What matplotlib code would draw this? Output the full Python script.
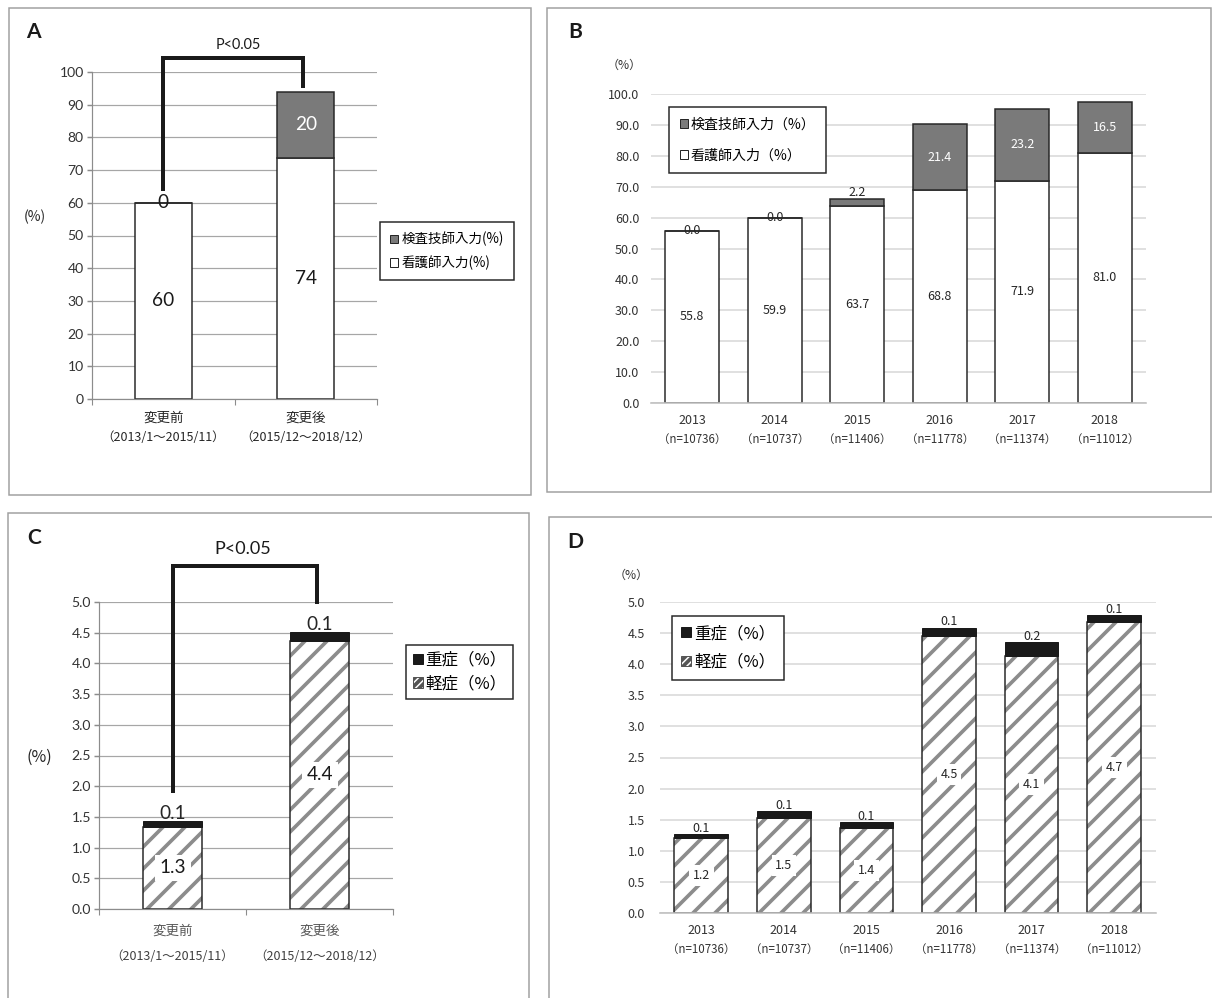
import matplotlib
matplotlib.use('Agg')
import matplotlib.pyplot as plt
import matplotlib.transforms as mtransforms
from matplotlib.patches import Rectangle, Patch
import numpy as np

W, H, DPI = 1212, 998, 132


def px(p):
    # pixel size -> points at this dpi
    return p * 72 / DPI


def fx(x):
    return x / W


def fy(y):
    return 1 - y / H


plt.rcParams['font.family'] = ['Noto Sans CJK JP', 'DejaVu Sans']
plt.rcParams['hatch.linewidth'] = 2.0
plt.rcParams['axes.axisbelow'] = True
LATIN = ['Lato', 'Noto Sans CJK JP', 'DejaVu Sans']

# ---- data ----
a_cats = ['変更前', '変更後']
a_periods = ['（2013/1～2015/11）', '（2015/12～2018/12）']
a_nurse = [60, 73.7]
a_tech = [0, 20.3]

b_years = ['2013', '2014', '2015', '2016', '2017', '2018']
b_n = ['（n=10736）', '（n=10737）', '（n=11406）', '（n=11778）', '（n=11374）', '（n=11012）']
b_nurse = [55.8, 59.9, 63.7, 68.8, 71.9, 81.0]
b_tech = [0.0, 0.0, 2.2, 21.4, 23.2, 16.5]

c_cats = ['変更前', '変更後']
c_periods = ['（2013/1～2015/11）', '（2015/12～2018/12）']
c_mild = [1.34, 4.37]
c_severe = [0.09, 0.14]

d_years = ['2013', '2014', '2015', '2016', '2017', '2018']
d_n = ['（n=10736）', '（n=10737）', '（n=11406）', '（n=11778）', '（n=11374）', '（n=11012）']
d_mild = [1.20, 1.53, 1.36, 4.46, 4.13, 4.68]
d_severe = [0.07, 0.11, 0.10, 0.13, 0.23, 0.11]

GRAY = '#7a7a7a'
EDGE = '#262626'
HATCH = '#8c8c8c'
SMALL = 12.5   # text size in panels B and D (px)

fig = plt.figure(figsize=(W / DPI, H / DPI), dpi=DPI)


def axes_px(l, t, r, b):
    return fig.add_axes([l / W, 1 - b / H, (r - l) / W, (b - t) / H])


def frame(l, t, r, b):
    fig.add_artist(Rectangle((l / W, 1 - b / H), (r - l) / W, (b - t) / H,
                             transform=fig.transFigure, fill=False,
                             ec='#a0a0a0', lw=px(1.5)))


def office_axes(ax, ymax, step, fmt, lab_px):
    # style of panels A and C
    ax.set_xlim(-0.5, 1.5)
    ax.set_ylim(0, ymax)
    ax.set_yticks(np.arange(0, ymax + step / 2, step))
    ax.set_yticklabels([fmt % v for v in np.arange(0, ymax + step / 2, step)])
    ax.yaxis.grid(True, color='#a6a6a6', lw=px(1.2))
    for s in ['top', 'right']:
        ax.spines[s].set_visible(False)
    for s in ['left', 'bottom']:
        ax.spines[s].set_color('#8c8c8c')
        ax.spines[s].set_linewidth(px(1.2))
    ax.tick_params(axis='y', length=px(5), color='#8c8c8c', labelsize=px(lab_px),
                   labelcolor='#333333', pad=px(3))
    for t in ax.get_yticklabels():
        t.set_family(LATIN)
    ax.set_xticks([-0.5, 0.5, 1.5], minor=True)
    ax.tick_params(axis='x', which='minor', length=px(6), color='#8c8c8c')


def year_axes(ax, ymax, step, pad):
    # style of panels B and D
    ax.set_xlim(-0.5, 5.5)
    ax.set_ylim(0, ymax)
    ax.set_yticks(np.arange(0, ymax + step / 2, step))
    ax.set_yticklabels(['%.1f' % v for v in np.arange(0, ymax + step / 2, step)])
    ax.yaxis.grid(True, color='#d9d9d9', lw=px(1.6))
    for s in ['top', 'right', 'left']:
        ax.spines[s].set_visible(False)
    ax.spines['bottom'].set_color('#bfbfbf')
    ax.spines['bottom'].set_linewidth(px(1.6))
    ax.tick_params(axis='y', length=0, labelsize=px(SMALL), labelcolor='#333333', pad=px(pad))


# ================= A =================
frame(9, 8, 531, 495)
ax = axes_px(92, 72, 377, 399)
x = np.arange(len(a_cats))
ax.bar(x, a_nurse, 0.4, color='white', edgecolor=EDGE, lw=px(1.5), zorder=2)
ax.bar(x, a_tech, 0.4, bottom=a_nurse, color=GRAY, edgecolor=EDGE, lw=px(1.5), zorder=2)
office_axes(ax, 100, 10, '%d', 14)
ax.set_xticks(x)
ax.set_xticklabels(a_cats)
ax.tick_params(axis='x', which='major', length=0, pad=px(12), labelsize=px(13.5), labelcolor='#262626')
tr = mtransforms.blended_transform_factory(ax.transData, fig.transFigure)
for i in x:
    ax.text(i, fy(437.5), a_periods[i], transform=tr, ha='center', va='center',
            fontsize=px(12.5), color='#262626')
    ax.text(i, a_nurse[i] / 2, '%.0f' % a_nurse[i], ha='center', va='center',
            fontsize=px(19), family=LATIN, color='#1a1a1a', zorder=3)
    ax.text(i, a_nurse[i] + a_tech[i] / 2, '%.0f' % a_tech[i], ha='center', va='center',
            fontsize=px(19), family=LATIN,
            color='white' if a_tech[i] > 5 else '#1a1a1a', zorder=3)
ax.plot([0, 0, 0.98, 0.98], [63.6, 104.2, 104.2, 95], color='#1a1a1a', lw=px(4),
        clip_on=False, solid_joinstyle='miter', solid_capstyle='butt')
fig.text(fx(238), fy(45), 'P<0.05', ha='center', va='center', fontsize=px(14.5),
         family=LATIN, color='#1a1a1a')
fig.text(fx(35), fy(217), '(%)', ha='center', va='center', fontsize=px(14), color='#262626')
fig.text(fx(26), fy(32), 'A', ha='left', va='center', fontsize=px(21), fontweight='bold',
         family=LATIN, color='#1a1a1a')
leg = ax.legend([Patch(fc=GRAY, ec=EDGE, lw=px(1)), Patch(fc='white', ec=EDGE, lw=px(1))],
                ['検査技師入力(%)', '看護師入力(%)'], loc='upper left',
                bbox_to_anchor=(fx(380), fy(222)), bbox_transform=fig.transFigure,
                fontsize=px(13.5), frameon=True, fancybox=False, edgecolor=EDGE, framealpha=1,
                handlelength=0.6, handleheight=0.6, handletextpad=0.25, borderpad=0.75,
                labelspacing=0.65, borderaxespad=0)
leg.get_frame().set_linewidth(px(1.5))

# ================= B =================
frame(547, 8, 1211, 492)
ax = axes_px(651, 94, 1146, 403)
x = np.arange(len(b_years))
nb = np.array(b_nurse)
tb = np.array(b_tech)
ax.bar(x, nb, 0.65, color='white', edgecolor=EDGE, lw=px(1.5), zorder=2)
ax.bar(x, tb, 0.65, bottom=nb, color=GRAY, edgecolor=EDGE, lw=px(1.5), zorder=2)
year_axes(ax, 100, 10, 11.5)
ax.set_xticks(x)
ax.set_xticklabels(b_years)
ax.tick_params(axis='x', length=0, pad=px(11), labelsize=px(SMALL), labelcolor='#333333')
tr = mtransforms.blended_transform_factory(ax.transData, fig.transFigure)
for i in x:
    ax.text(i, fy(439.5), b_n[i], transform=tr, ha='center', va='center',
            fontsize=px(11.5), color='#333333')
    ax.text(i, nb[i] / 2, '%.1f' % nb[i], ha='center', va='center', fontsize=px(SMALL),
            color='#262626', zorder=3)
    if tb[i] >= 5:
        ax.text(i, nb[i] + tb[i] / 2, '%.1f' % tb[i], ha='center', va='center',
                fontsize=px(SMALL), color='white', zorder=3)
    elif tb[i] > 0:
        ax.text(i, nb[i] + tb[i] + 0.2, '%.1f' % tb[i], ha='center', va='bottom',
                fontsize=px(SMALL), color='#262626', zorder=3)
    else:
        ax.text(i, nb[i], '%.1f' % tb[i], ha='center', va='center',
                fontsize=px(SMALL), color='#262626', zorder=3)
fig.text(fx(624), fy(65), '（%）', ha='center', va='center', fontsize=px(12), color='#333333')
fig.text(fx(568), fy(31.5), 'B', ha='left', va='center', fontsize=px(21), fontweight='bold',
         family=LATIN, color='#1a1a1a')
leg = ax.legend([Patch(fc=GRAY, ec=EDGE, lw=px(1)), Patch(fc='white', ec=EDGE, lw=px(1))],
                ['検査技師入力（%）', '看護師入力（%）'], loc='upper left',
                bbox_to_anchor=(fx(669), fy(107)), bbox_transform=fig.transFigure,
                fontsize=px(14), frameon=True, fancybox=False, edgecolor=EDGE, framealpha=1,
                handlelength=0.6, handleheight=0.6, handletextpad=0.2, borderpad=0.75,
                labelspacing=1.2, borderaxespad=0)
leg.get_frame().set_linewidth(px(1.5))

# ================= C =================
frame(8, 513, 529, 1010)
ax = axes_px(99, 602, 393, 909)
x = np.arange(len(c_cats))
cm = np.array(c_mild)
cs = np.array(c_severe)
ax.bar(x, cm, 0.4, color='white', edgecolor=HATCH, hatch='//', lw=0, zorder=2)
ax.bar(x, cm, 0.4, fill=False, edgecolor=EDGE, lw=px(1.5), zorder=2.1)
ax.bar(x, cs, 0.4, bottom=cm, color='#1a1a1a', edgecolor='#1a1a1a', lw=px(1), zorder=2.2)
office_axes(ax, 5, 0.5, '%.1f', 14)
ax.set_xticks(x)
ax.set_xticklabels(c_cats)
ax.tick_params(axis='x', which='major', length=0, pad=px(15), labelsize=px(13.5), labelcolor='#595959')
tr = mtransforms.blended_transform_factory(ax.transData, fig.transFigure)
for i in x:
    ax.text(i, fy(956), c_periods[i], transform=tr, ha='center', va='center',
            fontsize=px(12.5), color='#404040')
    ax.text(i, cm[i] / 2, '%.1f' % cm[i], ha='center', va='center', fontsize=px(19),
            family=LATIN, color='#1a1a1a', zorder=3,
            bbox=dict(boxstyle='square,pad=0.25', fc='white', ec='none'))
    ax.text(i, cm[i] + cs[i] + 0.13, '%.1f' % cs[i], ha='center', va='center',
            fontsize=px(19), family=LATIN, color='#262626', zorder=3)
ax.plot([0, 0, 0.98, 0.98], [1.89, 5.59, 5.59, 4.97], color='#1a1a1a', lw=px(4),
        clip_on=False, solid_joinstyle='miter', solid_capstyle='butt')
fig.text(fx(243), fy(549), 'P<0.05', ha='center', va='center', fontsize=px(18),
         family=LATIN, color='#1a1a1a')
fig.text(fx(39), fy(757), '(%)', ha='center', va='center', fontsize=px(16), color='#262626')
fig.text(fx(27), fy(538), 'C', ha='left', va='center', fontsize=px(21), fontweight='bold',
         family=LATIN, color='#1a1a1a')
leg = ax.legend([Patch(fc='#1a1a1a', ec='#1a1a1a', lw=px(1)),
                 Patch(fc='white', ec='#555555', hatch='//////', lw=px(1))],
                ['重症（%）', '軽症（%）'], loc='upper left',
                bbox_to_anchor=(fx(406), fy(645)), bbox_transform=fig.transFigure,
                fontsize=px(16.5), frameon=True, fancybox=False, edgecolor=EDGE, framealpha=1,
                handlelength=0.6, handleheight=0.6, handletextpad=0.15, borderpad=0.4,
                labelspacing=0.4, borderaxespad=0)
leg.get_frame().set_linewidth(px(1.5))

# ================= D =================
frame(549, 517, 1230, 1010)
ax = axes_px(660, 602, 1155.5, 913)
x = np.arange(len(d_years))
dm = np.array(d_mild)
ds = np.array(d_severe)
ax.bar(x, dm, 0.65, color='white', edgecolor=HATCH, hatch='//', lw=0, zorder=2)
ax.bar(x, dm, 0.65, fill=False, edgecolor=EDGE, lw=px(1.5), zorder=2.1)
ax.bar(x, ds, 0.65, bottom=dm, color='#1a1a1a', edgecolor='#1a1a1a', lw=px(1), zorder=2.2)
year_axes(ax, 5, 0.5, 15)
ax.set_xticks(x)
ax.set_xticklabels(d_years)
ax.tick_params(axis='x', length=0, pad=px(11), labelsize=px(SMALL), labelcolor='#333333')
tr = mtransforms.blended_transform_factory(ax.transData, fig.transFigure)
for i in x:
    ax.text(i, fy(949.5), d_n[i], transform=tr, ha='center', va='center',
            fontsize=px(11.5), color='#333333')
    ax.text(i, dm[i] / 2, '%.1f' % dm[i], ha='center', va='center', fontsize=px(SMALL),
            color='#262626', zorder=3,
            bbox=dict(boxstyle='square,pad=0.3', fc='white', ec='none'))
    ax.text(i, dm[i] + ds[i] + 0.09, '%.1f' % ds[i], ha='center', va='center',
            fontsize=px(SMALL), color='#262626', zorder=3)
fig.text(fx(631), fy(575), '（%）', ha='center', va='center', fontsize=px(12), color='#333333')
fig.text(fx(567), fy(541.5), 'D', ha='left', va='center', fontsize=px(21), fontweight='bold',
         family=LATIN, color='#1a1a1a')
leg = ax.legend([Patch(fc='#1a1a1a', ec='#1a1a1a', lw=px(1)),
                 Patch(fc='white', ec='#555555', hatch='//////', lw=px(1))],
                ['重症（%）', '軽症（%）'], loc='upper left',
                bbox_to_anchor=(fx(672), fy(616)), bbox_transform=fig.transFigure,
                fontsize=px(16.5), frameon=True, fancybox=False, edgecolor=EDGE, framealpha=1,
                handlelength=0.6, handleheight=0.6, handletextpad=0.2, borderpad=0.55,
                labelspacing=0.7, borderaxespad=0)
leg.get_frame().set_linewidth(px(1.5))

fig.savefig('out.png', dpi=DPI)
